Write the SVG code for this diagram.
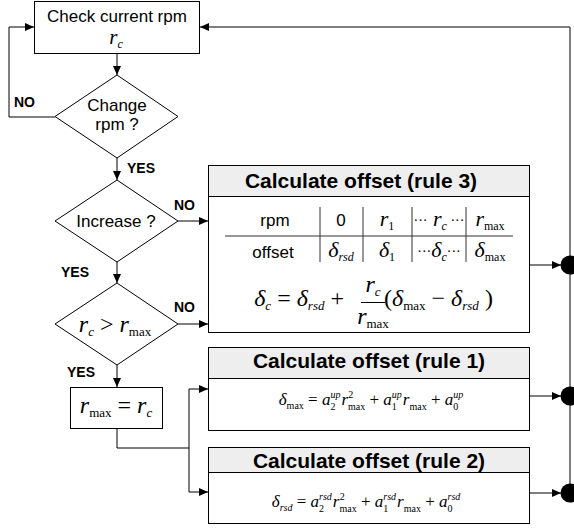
<svg xmlns="http://www.w3.org/2000/svg" width="574" height="529" viewBox="0 0 574 529">
<style>
.ln{fill:none;stroke:#000;stroke-width:1}
.gl{fill:none;stroke:#555;stroke-width:1.5}
.box{fill:#fff;stroke:#000;stroke-width:1}
.hd{fill:#eeeeee;stroke:#000;stroke-width:1}
.tl{stroke:#333;stroke-width:1}
.t{font-family:"Liberation Sans",Arial,sans-serif;font-size:17px;fill:#000}
.b{font-family:"Liberation Sans",Arial,sans-serif;font-weight:bold;font-size:14px;fill:#000}
.h{font-family:"Liberation Sans",Arial,sans-serif;font-weight:bold;font-size:21px;text-anchor:middle;fill:#000}
.m{font-family:"Liberation Serif","Times New Roman","DejaVu Serif",serif;font-style:italic;fill:#000}
.u{font-style:normal}
.mid{text-anchor:middle}
</style>
<defs>
<marker id="ah" viewBox="0 0 9 8" refX="9" refY="4" markerWidth="9" markerHeight="8" markerUnits="userSpaceOnUse" orient="auto"><path d="M0,0 L9,4 L0,8 z" fill="#000"/></marker>
</defs>

<g id="connectors">
<line class="ln" x1="117" y1="54" x2="117" y2="75" marker-end="url(#ah)"/>
<polyline class="ln" points="55,117 9,117 9,27 34,27" marker-end="url(#ah)"/>
<line class="ln" x1="117" y1="158" x2="117" y2="180" marker-end="url(#ah)"/>
<line class="ln" x1="178" y1="221" x2="208" y2="221" marker-end="url(#ah)"/>
<line class="ln" x1="117" y1="262" x2="117" y2="283" marker-end="url(#ah)"/>
<line class="ln" x1="178" y1="324" x2="208" y2="324" marker-end="url(#ah)"/>
<line class="ln" x1="117" y1="365" x2="117" y2="387" marker-end="url(#ah)"/>
<polyline class="ln" points="117,428 117,448 189,448"/>
<line class="ln" x1="189" y1="389" x2="189" y2="492"/>
<line class="ln" x1="189" y1="389" x2="208" y2="389" marker-end="url(#ah)"/>
<line class="ln" x1="189" y1="492" x2="208" y2="492" marker-end="url(#ah)"/>
<line class="gl" x1="530" y1="265" x2="561" y2="265" marker-end="url(#ah)"/>
<line class="gl" x1="530" y1="396" x2="561" y2="396" marker-end="url(#ah)"/>
<line class="gl" x1="530" y1="493" x2="561" y2="493" marker-end="url(#ah)"/>
<line class="gl" x1="570" y1="493" x2="570" y2="27"/>
<line class="gl" x1="570" y1="27" x2="200" y2="27" marker-end="url(#ah)"/>
<circle cx="570" cy="265" r="9.5" fill="#000"/>
<circle cx="570" cy="396" r="9.5" fill="#000"/>
<circle cx="570" cy="493" r="9.5" fill="#000"/>
<text class="b" x="14" y="107">NO</text>
<text class="b" x="127" y="173">YES</text>
<text class="b" x="174" y="210">NO</text>
<text class="b" x="61" y="277">YES</text>
<text class="b" x="174" y="312">NO</text>
<text class="b" x="67" y="377">YES</text>
</g>

<g id="check">
<rect class="box" x="34.5" y="1.5" width="165" height="52"/>
<text class="t mid" x="117" y="22">Check current rpm</text>
<text class="m mid" x="116" y="44" font-size="21">r<tspan font-size="12" dy="4">c</tspan></text>
</g>

<g id="change">
<polygon class="box" points="117,75 178,116.5 117,158 55,116.5"/>
<text class="t mid" x="117" y="111">Change</text>
<text class="t mid" x="117" y="130">rpm ?</text>
</g>

<g id="increase">
<polygon class="box" points="117,180 178,221 117,262 55,221"/>
<text class="t mid" x="116" y="227">Increase ?</text>
</g>

<g id="compare">
<polygon class="box" points="117,283 178,324 117,365 55,324"/>
<text class="m mid" x="115" y="332" font-size="24">r<tspan font-size="13" dy="4">c</tspan><tspan class="u" dy="-4"> &gt; </tspan>r<tspan class="u" font-size="13" dy="4">max</tspan></text>
</g>

<g id="setmax">
<rect class="box" x="70.5" y="387.5" width="92" height="41"/>
<text class="m mid" x="116" y="413" font-size="24">r<tspan class="u" font-size="13" dy="4">max</tspan><tspan class="u" dy="-4"> = </tspan>r<tspan font-size="13" dy="4">c</tspan></text>
</g>

<g id="rule3">
<rect class="box" x="208.5" y="165.5" width="321" height="167"/>
<rect class="hd" x="208.5" y="165.5" width="321" height="31"/>
<text class="h" x="361" y="188">Calculate offset (rule 3)</text>
<line class="tl" x1="225" y1="236" x2="513" y2="236"/>
<line class="tl" x1="320" y1="207" x2="320" y2="262"/>
<line class="tl" x1="363" y1="207" x2="363" y2="262"/>
<line class="tl" x1="412" y1="207" x2="412" y2="262"/>
<line class="tl" x1="466" y1="207" x2="466" y2="262"/>
<text class="t mid" x="275" y="226">rpm</text>
<text class="t mid" x="341" y="226">0</text>
<text class="m mid" x="387" y="226" font-size="22">r<tspan class="u" font-size="12" dy="4">1</tspan></text>
<text class="m mid" x="439" y="226" font-size="22"><tspan class="u" font-size="14" dy="-1">···</tspan><tspan dy="1"> r</tspan><tspan font-size="12" dy="4">c</tspan><tspan class="u" font-size="14" dy="-5"> ···</tspan></text>
<text class="m mid" x="490" y="226" font-size="22">r<tspan class="u" font-size="12" dy="4">max</tspan></text>
<text class="t mid" x="273" y="258">offset</text>
<text class="m mid" x="341" y="257" font-size="22">δ<tspan font-size="12" dy="4">rsd</tspan></text>
<text class="m mid" x="387" y="257" font-size="22">δ<tspan class="u" font-size="12" dy="4">1</tspan></text>
<text class="m mid" x="439" y="257" font-size="22"><tspan class="u" font-size="14" dy="-1">···</tspan><tspan dy="1">δ</tspan><tspan font-size="12" dy="4">c</tspan><tspan class="u" font-size="14" dy="-5">···</tspan></text>
<text class="m mid" x="490" y="257" font-size="22">δ<tspan class="u" font-size="12" dy="4">max</tspan></text>
<text class="m" x="344" y="306" font-size="24" text-anchor="end">δ<tspan font-size="13" dy="4">c</tspan><tspan class="u" dy="-4"> = </tspan>δ<tspan font-size="13" dy="4">rsd</tspan><tspan class="u" dy="-4"> +</tspan></text>
<text class="m mid" x="373" y="292" font-size="24">r<tspan font-size="13" dy="4">c</tspan></text>
<line class="ln" x1="361" y1="302.5" x2="385" y2="302.5"/>
<text class="m mid" x="373" y="324" font-size="24">r<tspan class="u" font-size="13" dy="4">max</tspan></text>
<text class="m" x="384" y="306" font-size="24"><tspan class="u">(</tspan>δ<tspan class="u" font-size="13" dy="4">max</tspan><tspan class="u" dy="-4"> − </tspan>δ<tspan font-size="13" dy="4">rsd</tspan><tspan class="u" dy="-4"> )</tspan></text>
</g>

<g id="rule1">
<rect class="box" x="208.5" y="347.5" width="321" height="83"/>
<rect class="hd" x="208.5" y="347.5" width="321" height="31"/>
<text class="h" x="369" y="368">Calculate offset (rule 1)</text>
<text class="m mid" x="371" y="405" font-size="17">δ<tspan class="u" font-size="10" dy="4">max</tspan><tspan class="u" dy="-4"> = </tspan>a<tspan class="u" font-size="10" dy="5">2</tspan><tspan font-size="10" dx="-5" dy="-12">up</tspan><tspan dx="1" dy="7">r</tspan><tspan class="u" font-size="10" dy="5">max</tspan><tspan class="u" font-size="10" dx="-17" dy="-12">2</tspan><tspan class="u" dx="12" dy="7"> + </tspan>a<tspan class="u" font-size="10" dy="5">1</tspan><tspan font-size="10" dx="-5" dy="-12">up</tspan><tspan dx="1" dy="7">r</tspan><tspan class="u" font-size="10" dy="5">max</tspan><tspan class="u" dy="-5"> + </tspan>a<tspan class="u" font-size="10" dy="5">0</tspan><tspan font-size="10" dx="-5" dy="-12">up</tspan></text>
</g>

<g id="rule2">
<rect class="box" x="208.5" y="447.5" width="321" height="76"/>
<rect class="hd" x="208.5" y="447.5" width="321" height="25"/>
<text class="h" x="369" y="468">Calculate offset (rule 2)</text>
<text class="m mid" x="366" y="507" font-size="17">δ<tspan font-size="10" dy="4">rsd</tspan><tspan class="u" dy="-4">  =  </tspan>a<tspan class="u" font-size="10" dy="5">2</tspan><tspan font-size="10" dx="-5" dy="-12">rsd</tspan><tspan dx="1" dy="7">r</tspan><tspan class="u" font-size="10" dy="5">max</tspan><tspan class="u" font-size="10" dx="-17" dy="-12">2</tspan><tspan class="u" dx="12" dy="7"> + </tspan>a<tspan class="u" font-size="10" dy="5">1</tspan><tspan font-size="10" dx="-5" dy="-12">rsd</tspan><tspan dx="1" dy="7">r</tspan><tspan class="u" font-size="10" dy="5">max</tspan><tspan class="u" dy="-5"> + </tspan>a<tspan class="u" font-size="10" dy="5">0</tspan><tspan font-size="10" dx="-5" dy="-12">rsd</tspan></text>
</g>
</svg>
